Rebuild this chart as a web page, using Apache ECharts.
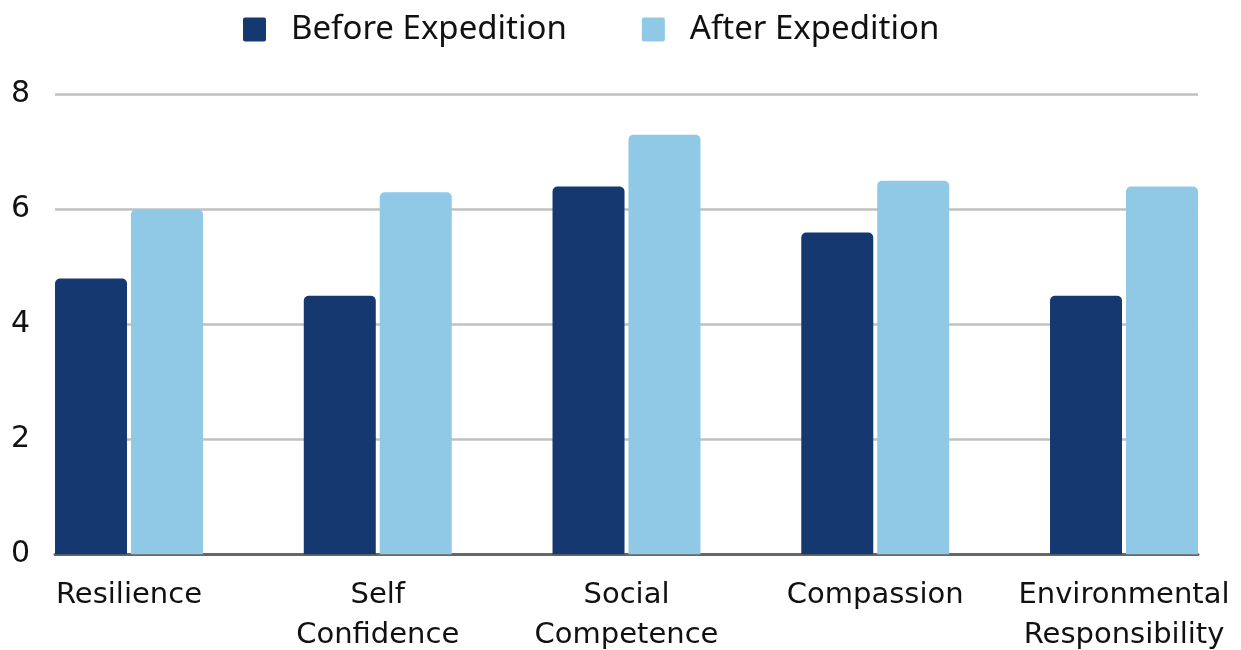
<!DOCTYPE html>
<html>
<head>
<meta charset="utf-8">
<script src="https://cdn.jsdelivr.net/npm/echarts@6/dist/echarts.min.js"></script>
<style>html,body{margin:0;padding:0;background:#fff}#c{width:1241px;height:650px}</style>
</head>
<body>
<div id="c"></div>
<script>
const categories = ['Resilience', 'Self Confidence', 'Social Competence', 'Compassion', 'Environmental Responsibility'];
const beforeValues = [4.8, 4.5, 6.4, 5.6, 4.5];
const afterValues = [6.0, 6.3, 7.3, 6.5, 6.4];
const yTicks = { min: 0, max: 8, interval: 2 };
const seriesNames = ['Before Expedition', 'After Expedition'];

const chart = echarts.init(document.getElementById('c'), null, { renderer: 'canvas' });
const labelFont = 'DejaVu Sans';
const legendIcon = 'path://M2,0 L21,0 Q23,0 23,2 L23,22 Q23,24 21,24 L2,24 Q0,24 0,22 L0,2 Q0,0 2,0 Z';
chart.setOption({
  animation: false,
  backgroundColor: '#ffffff',
  color: ['#14386F', '#8FC9E5'],
  legend: {
    left: 238, top: 8,
    itemWidth: 23, itemHeight: 24, itemGap: 75,
    icon: legendIcon,
    textStyle: { fontFamily: 'Noto Sans', fontSize: 33, color: '#111', padding: [0, 0, 0, 20] },
    data: seriesNames
  },
  grid: [
    { left: 4.625, right: -7.375, top: 94.5, bottom: 95.7, outerBoundsMode: 'none', containLabel: false },
    { left: 55, right: 43, top: 94.5, bottom: 95.7, outerBoundsMode: 'none', containLabel: false }
  ],
  xAxis: [
    {
      gridIndex: 0, type: 'category', data: categories,
      axisLine: { show: false }, axisTick: { show: false },
      axisLabel: {
        fontFamily: labelFont, fontSize: 29, color: '#111', lineHeight: 40, margin: 21,
        interval: 0,
        formatter: v => v.replace(' ', '\n')
      }
    },
    {
      gridIndex: 1, type: 'value', min: 0, max: 1,
      axisLine: { show: true, lineStyle: { color: '#666666', width: 3 } },
      axisTick: { show: false }, axisLabel: { show: false }, splitLine: { show: false }
    }
  ],
  yAxis: [
    { gridIndex: 0, type: 'value', min: yTicks.min, max: yTicks.max, interval: yTicks.interval, show: false, splitLine: { show: false } },
    {
      gridIndex: 1, type: 'value', min: yTicks.min, max: yTicks.max, interval: yTicks.interval,
      axisLine: { show: false }, axisTick: { show: false },
      axisLabel: { fontFamily: labelFont, fontSize: 30, color: '#111', margin: 25, padding: [9, 0, 0, 0] },
      splitLine: { show: true, lineStyle: { color: '#C0C0C0', width: 2.5 } }
    }
  ],
  series: [
    { name: seriesNames[0], type: 'bar', xAxisIndex: 0, yAxisIndex: 0, data: beforeValues, barWidth: 72, barGap: '5.5%', itemStyle: { borderRadius: [5, 5, 0, 0] }, z: 3 },
    { name: seriesNames[1], type: 'bar', xAxisIndex: 0, yAxisIndex: 0, data: afterValues, barWidth: 72, barGap: '5.5%', itemStyle: { borderRadius: [5, 5, 0, 0] }, z: 3 }
  ]
});
</script>
</body>
</html>
